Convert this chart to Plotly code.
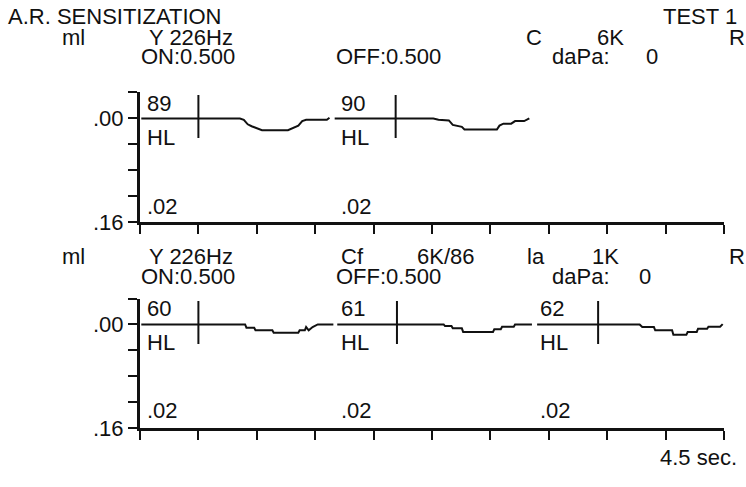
import plotly.graph_objects as go

# ---- axes ---------------------------------------------------------------
T_MAX = 4.5                                   # seconds across the time axis
X_TICKS = [i * 0.45 for i in range(11)]
Y_TICKS = [-0.04, 0.0, 0.04, 0.08, 0.12, 0.16]
Y_TICK_TEXT = ["", ".00", "", "", "", ".16"]

# ---- panel 1 : reflex traces (time s, compliance change ml) ------------
top_seg1_t = [0.01, 0.77, 0.80, 0.83, 0.86, 0.90, 0.94, 1.14, 1.16, 1.20, 1.22, 1.25, 1.28, 1.44, 1.46]
top_seg1_v = [0.0, 0.0, 0.002, 0.009, 0.012, 0.015, 0.018, 0.018, 0.016, 0.012, 0.011, 0.004, 0.002, 0.002, -0.001]
top_seg2_t = [1.50, 2.26, 2.30, 2.38, 2.41, 2.48, 2.50, 2.75, 2.77, 2.80, 2.86, 2.89, 2.96, 3.00]
top_seg2_v = [0.0, 0.0, 0.002, 0.003, 0.010, 0.013, 0.017, 0.017, 0.011, 0.008, 0.008, 0.004, 0.004, 0.0]
top_on_marks = [0.45, 1.97]

# ---- panel 2 ------------------------------------------------------------
bot_seg1_t = [0.01, 0.81, 0.82, 0.88, 0.89, 1.02, 1.03, 1.22, 1.23, 1.27, 1.28, 1.30, 1.33, 1.37, 1.49]
bot_seg1_v = [0.0, 0.0, 0.005, 0.005, 0.009, 0.009, 0.0126, 0.0126, 0.009, 0.009, 0.004, 0.009, 0.004, 0.0, 0.0]
bot_seg2_t = [1.52, 2.34, 2.35, 2.40, 2.41, 2.48, 2.49, 2.72, 2.73, 2.78, 2.79, 2.88, 2.89, 3.02]
bot_seg2_v = [0.0, 0.0, 0.0025, 0.0025, 0.006, 0.006, 0.0115, 0.0115, 0.0075, 0.0075, 0.0036, 0.0036, 0.0, 0.0]
bot_seg3_t = [3.06, 3.85, 3.87, 3.96, 3.97, 4.10, 4.11, 4.21, 4.22, 4.29, 4.30, 4.37, 4.38, 4.47, 4.49]
bot_seg3_v = [0.0, 0.0, 0.004, 0.004, 0.009, 0.009, 0.016, 0.016, 0.0116, 0.0116, 0.0066, 0.0066, 0.0036, 0.0036, -0.0006]
bot_on_marks = [0.45, 1.98, 3.53]

MARK_SPAN = [-0.036, 0.030]

# ---- text ---------------------------------------------------------------
title_text = "A.R. SENSITIZATION"
test_text = "TEST 1"
top_header_1 = ["ml", "Y 226Hz", "C", "6K", "R"]
top_header_2 = ["ON:0.500", "OFF:0.500", "daPa:", "0"]
top_levels = ["89", "90"]
bot_header_1 = ["ml", "Y 226Hz", "Cf", "6K/86", "la", "1K", "R"]
bot_header_2 = ["ON:0.500", "OFF:0.500", "daPa:", "0"]
bot_levels = ["60", "61", "62"]
unit_text = "HL"
scale_text = ".02"
time_text = "4.5 sec."

# ---- layout geometry (pixels) ------------------------------------------
W, H = 746, 487
L, R = 140, 22
PW = W - L - R
FONT = dict(family="Liberation Sans, Arial, sans-serif", size=22, color="#111")
INK = "#111"


def px(x):
    return (x - L) / PW


def py(y):
    return (H - y) / H


fig = go.Figure()

line_style = dict(color=INK, width=2)
for t, v in [(top_seg1_t, top_seg1_v), (top_seg2_t, top_seg2_v)]:
    fig.add_trace(go.Scatter(x=t, y=v, mode="lines", line=line_style,
                             xaxis="x", yaxis="y", hoverinfo="skip"))
for t, v in [(bot_seg1_t, bot_seg1_v), (bot_seg2_t, bot_seg2_v), (bot_seg3_t, bot_seg3_v)]:
    fig.add_trace(go.Scatter(x=t, y=v, mode="lines", line=line_style,
                             xaxis="x2", yaxis="y2", hoverinfo="skip"))

for marks, xa, ya in [(top_on_marks, "x", "y"), (bot_on_marks, "x2", "y2")]:
    mx, my = [], []
    for m in marks:
        mx += [m, m, None]
        my += [MARK_SPAN[0], MARK_SPAN[1], None]
    fig.add_trace(go.Scatter(x=mx, y=my, mode="lines", line=dict(color=INK, width=2),
                             xaxis=xa, yaxis=ya, hoverinfo="skip"))

xaxis_style = dict(range=[0, T_MAX], tickvals=X_TICKS, showticklabels=False,
                   ticks="outside", ticklen=9, tickwidth=2, tickcolor=INK,
                   showline=True, linewidth=3, linecolor=INK,
                   showgrid=False, zeroline=False, domain=[0, 1])
yaxis_style = dict(range=[0.16, -0.04], tickvals=Y_TICKS, ticktext=Y_TICK_TEXT,
                   ticks="outside", ticklen=9, tickwidth=2, tickcolor=INK,
                   showline=True, linewidth=3, linecolor=INK,
                   showgrid=False, zeroline=False, tickfont=FONT)

# panel pixel extents: top 95..228.5, bottom 306.7..440
fig.update_layout(
    width=W, height=H,
    margin=dict(l=L, r=R, t=0, b=0),
    paper_bgcolor="white", plot_bgcolor="white",
    showlegend=False,
    font=FONT,
    xaxis=dict(anchor="y", **xaxis_style),
    xaxis2=dict(anchor="y2", **xaxis_style),
    yaxis=dict(anchor="x", domain=[py(228.5), py(95)], **yaxis_style),
    yaxis2=dict(anchor="x2", domain=[py(440), py(306.7)], **yaxis_style),
)


def label(text, x, y, anchor="left"):
    fig.add_annotation(text=text, x=px(x), y=py(y), xref="paper", yref="paper",
                       xanchor=anchor, yanchor="middle", showarrow=False,
                       font=FONT, borderpad=0)


label(title_text, 7, 17)
label(test_text, 738, 17, "right")

for s, x in zip(top_header_1, [61, 148, 525, 596, 728]):
    label(s, x, 39)
for s, x in zip(top_header_2, [140, 335, 551, 645]):
    label(s, x, 58)
for s, x in zip(top_levels, [146, 340]):
    label(s, x, 106)
for x in [146, 340]:
    label(unit_text, x, 141)
    label(scale_text, x, 212)

for s, x in zip(bot_header_1, [61, 148, 340, 416, 526, 591, 728]):
    label(s, x, 264)
for s, x in zip(bot_header_2, [140, 335, 551, 638]):
    label(s, x, 284)
for s, x in zip(bot_levels, [146, 340, 539]):
    label(s, x, 317)
for x in [146, 340, 539]:
    label(unit_text, x, 352)
    label(scale_text, x, 422)

label(time_text, 738, 470, "right")

fig.write_html("out.html")
